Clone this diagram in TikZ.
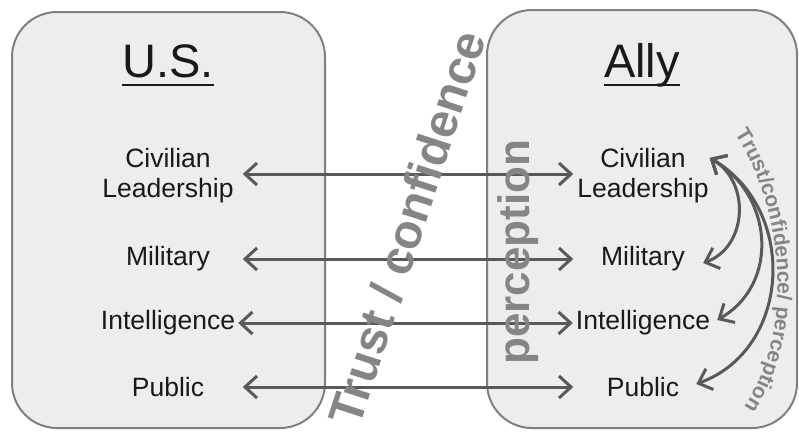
\documentclass[tikz,border=0pt]{standalone}
\usepackage{fontspec}
\setmainfont{Liberation Sans}
\usetikzlibrary{arrows.meta,decorations.text}
\definecolor{boxfill}{HTML}{EDEDED}
\definecolor{boxline}{HTML}{7F7F7F}
\definecolor{arr}{HTML}{595959}
\definecolor{bigtxt}{HTML}{858585}
\begin{document}
\begin{tikzpicture}[x=1pt,y=1pt,
  panel/.style={draw=boxline, fill=boxfill, line width=2pt, rounded corners=45pt},
  lab/.style={font=\fontsize{26.5}{30}\selectfont, align=center, inner sep=3pt, text=black!90},
  ttl/.style={font=\fontsize{47}{50}\selectfont, inner sep=0pt, anchor=base, text=black!90},
  biarrow/.style={draw=arr, line width=3pt, {Straight Barb[length=12pt,width=22pt]}-{Straight Barb[length=12pt,width=22pt]}},
  bigtext/.style={font=\fontsize{48}{50}\selectfont\bfseries, text=bigtxt, inner sep=0pt},
]
\useasboundingbox (0,0) rectangle (799,-432);
\draw[panel] (12,-12) rectangle (325,-428);
\draw[panel] (487,-10) rectangle (797,-428);

\node[ttl] (us) at (168,-77) {U.S.};
\draw[line width=2.5pt, black!90] ([yshift=-8pt]us.base west) -- ([yshift=-8pt]us.base east);
\node[ttl] (ally) at (642,-77) {Ally};
\draw[line width=2.5pt, black!90] ([yshift=-8pt]ally.base west) -- ([yshift=-8pt]ally.base east);

\node[lab] (lc) at (168,-176) {Civilian\\Leadership};
\node[lab] (lm) at (168,-259) {Military};
\node[lab] (li) at (168,-323) {Intelligence};
\node[lab] (lp) at (168,-387) {Public};
\node[lab] (rc) at (643,-176) {Civilian\\Leadership};
\node[lab] (rm) at (643,-259) {Military};
\node[lab] (ri) at (643,-323) {Intelligence};
\node[lab] (rp) at (643,-387) {Public};

\coordinate (ltip) at ([xshift=6pt]lc.east);
\coordinate (rtip) at ([xshift=-1pt]rc.west);
\draw[biarrow] (ltip |- 0,-174) -- (rtip |- 0,-174);
\draw[biarrow] (ltip |- lm) -- (rtip |- rm);
\draw[biarrow] (li.east) -- (ri.west);
\draw[biarrow] (ltip |- lp) -- (rtip |- rp);

\node[bigtext, rotate=72] (tc) at (407,-228) {Trust / confidence};
\node[bigtext, rotate=90, font=\fontsize{44}{46}\selectfont\bfseries] (pc) at (518,-252) {perception};

\coordinate (cs) at ([xshift=-2pt,yshift=18pt]rc.east);
\coordinate (me) at ([xshift=15pt,yshift=-4pt]rm.east);
\coordinate (ie) at ([xshift=4pt,yshift=3pt]ri.east);
\coordinate (pe) at ([xshift=14pt,yshift=3pt]rp.east);
\draw[biarrow] (cs) to[out=-30, in=20, looseness=1.15] (me);
\draw[biarrow] (cs) to[out=-30, in=30, looseness=1.15] (ie);
\draw[biarrow] (cs) to[out=-30, in=20, looseness=1.15] (pe);

\path[decorate, decoration={text along path, text align=center,
  text={|\fontsize{21}{21}\selectfont\bfseries\color{bigtxt}|Trust/confidence/ perception}}]
  (727,-122) .. controls (782,-195) and (802,-335) .. (736,-418);
\end{tikzpicture}
\end{document}
